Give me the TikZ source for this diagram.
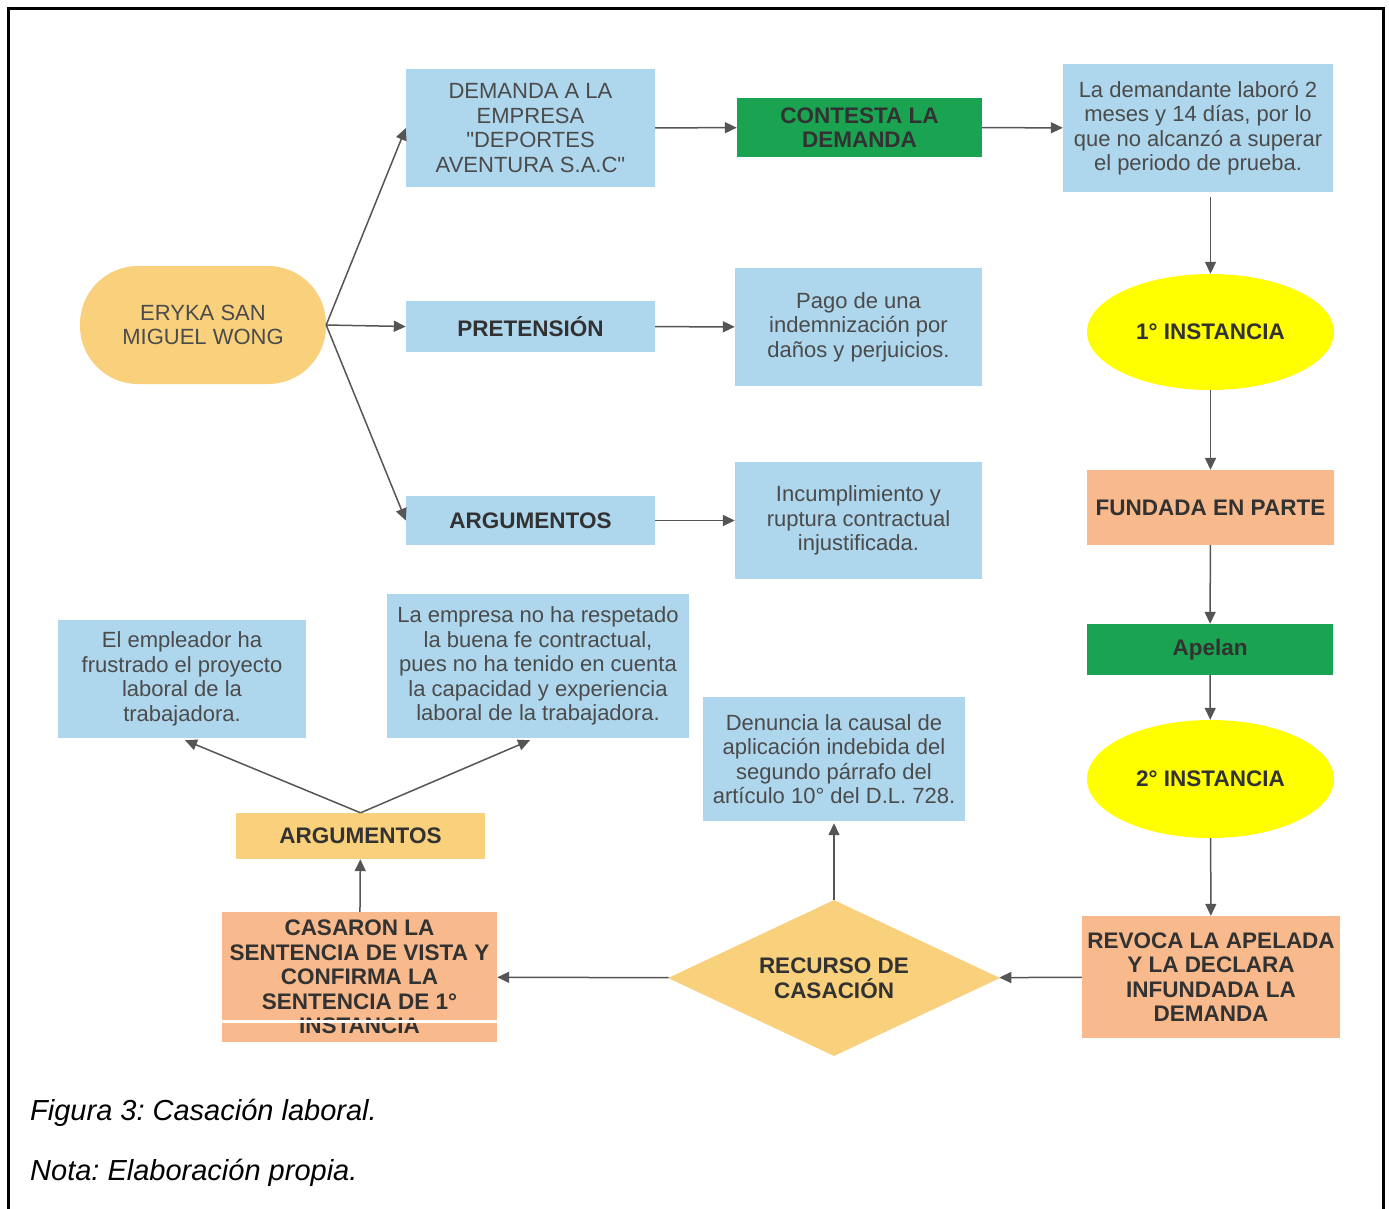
\documentclass[tikz,border=0pt]{standalone}
\usepackage{fontspec}
\setmainfont{Liberation Sans}
\usetikzlibrary{arrows.meta,shapes.geometric}
\definecolor{lblue}{RGB}{174,214,236}
\definecolor{dgreen}{RGB}{26,163,80}
\definecolor{ylw}{RGB}{255,255,0}
\definecolor{salmon}{RGB}{248,186,140}
\definecolor{gold}{RGB}{249,208,124}
\definecolor{txt}{RGB}{75,75,75}
\definecolor{btxt}{RGB}{50,50,50}
\definecolor{arr}{RGB}{85,85,85}
\newcommand\strq{\XeTeXglyph\XeTeXcharglyph"22\relax}
\frenchspacing
\begin{document}
\begin{tikzpicture}[x=1pt,y=-1pt,
  box/.style={rectangle, inner sep=0pt, align=center, text=txt,
    font=\fontsize{22}{24.5}\selectfont},
  bbox/.style={box, text=btxt, font=\fontsize{22.5}{24.5}\selectfont\bfseries},
  conn/.style={draw=arr, line width=1.5pt, -{Triangle[length=12pt,width=11pt]}}]
\useasboundingbox (0,0) rectangle (1389,1208);
\draw[line width=3pt] (8,1215) -- (8,8) -- (1383,8) -- (1383,1215);

% top part
\node[box, fill=gold, rounded corners=58pt, minimum width=246pt, minimum height=118pt] (eryka) at (203,325) {ERYKA SAN\\MIGUEL WONG};
\node[box, fill=lblue, minimum width=249pt, minimum height=118pt] (demanda) at (530.5,128) {DEMANDA A LA\\EMPRESA\\\strq DEPORTES\\AVENTURA S.A.C\strq};
\node[bbox, fill=dgreen, minimum width=245pt, minimum height=59pt] (contesta) at (859.5,127.5) {CONTESTA LA\\DEMANDA};
\node[box, fill=lblue, minimum width=270pt, minimum height=128pt] (laboro) at (1198,128) {La demandante laboró 2\\meses y 14 días, por lo\\que no alcanzó a superar\\el periodo de prueba.};
\node[bbox, fill=lblue, minimum width=249pt, minimum height=51pt] (pret) at (530.5,326.5) {PRETENSIÓN};
\node[box, fill=lblue, minimum width=247pt, minimum height=118pt] (pago) at (858.5,327) {Pago de una\\indemnización por\\daños y perjuicios.};
\node[bbox, fill=lblue, minimum width=249pt, minimum height=49pt] (arga) at (530.5,520.5) {ARGUMENTOS};
\node[box, fill=lblue, minimum width=247pt, minimum height=117pt] (incum) at (858.5,520.5) {Incumplimiento y\\ruptura contractual\\injustificada.};

% right column
\node[bbox, ellipse, fill=ylw, minimum width=247pt, minimum height=116pt] (inst1) at (1210.5,332) {1° INSTANCIA};
\node[bbox, fill=salmon, minimum width=247pt, minimum height=75pt] (fund) at (1210.5,507.5) {FUNDADA EN PARTE};
\node[bbox, fill=dgreen, minimum width=246pt, minimum height=51pt] (apelan) at (1210,649.5) {Apelan};
\node[bbox, ellipse, fill=ylw, minimum width=247pt, minimum height=118pt] (inst2) at (1210.5,779) {2° INSTANCIA};
\node[bbox, fill=salmon, minimum width=258pt, minimum height=122pt] (revoca) at (1211,977) {REVOCA LA APELADA\\Y LA DECLARA\\INFUNDADA LA\\DEMANDA};

% bottom part
\node[bbox, diamond, aspect=2.13, fill=gold, minimum width=332pt, minimum height=156pt] (recurso) at (834,978) {RECURSO DE\\CASACIÓN};
\node[box, fill=lblue, minimum width=262pt, minimum height=124pt] (denuncia) at (834,759) {Denuncia la causal de\\aplicación indebida del\\segundo párrafo del\\artículo 10° del D.L. 728.};
\node[bbox, fill=salmon, minimum width=275pt, minimum height=130pt] (casaron) at (359.5,977) {CASARON LA\\SENTENCIA DE VISTA Y\\CONFIRMA LA\\SENTENCIA DE 1°\\INSTANCIA};
\node[bbox, fill=gold, minimum width=249pt, minimum height=46pt] (argb) at (360.5,836) {ARGUMENTOS};
\node[box, fill=lblue, minimum width=248pt, minimum height=118pt] (emple) at (182,679) {El empleador ha\\frustrado el proyecto\\laboral de la\\trabajadora.};
\node[box, fill=lblue, minimum width=302pt, minimum height=144pt] (empresa) at (538,666) {La empresa no ha respetado\\la buena fe contractual,\\pues no ha tenido en cuenta\\la capacidad y experiencia\\laboral de la trabajadora.};
\fill[white] (222,1019.5) rectangle (497,1022.5);

% connectors
\draw[conn] (eryka.east) -- (demanda.west);
\draw[conn] (eryka.east) -- (pret.west);
\draw[conn] (eryka.east) -- (arga.west);
\draw[conn] (demanda) -- (contesta);
\draw[conn] (contesta) -- (laboro);
\draw[conn] (pret) -- (pago);
\draw[conn] (arga) -- (incum);
\draw[conn, shorten <=5pt] (laboro.south -| inst1.north) -- (inst1.north);
\draw[conn] (inst1) -- (fund);
\draw[conn] (fund) -- (apelan);
\draw[conn] (apelan) -- (inst2);
\draw[conn] (inst2) -- (revoca);
\draw[conn] (revoca) -- (recurso);
\draw[conn] (recurso) -- (casaron);
\draw[conn] (recurso.north) -- ([yshift=-2pt]denuncia.south);
\draw[conn] (casaron) -- (argb);
\draw[conn] (argb.north) -- ([xshift=3pt,yshift=-2pt]emple.south);
\draw[conn] (argb.north) -- ([xshift=-8pt,yshift=-2pt]empresa.south);

% caption
\node[anchor=base west, inner sep=0pt, font=\fontsize{29}{32}\selectfont\itshape] (cap1) at (30,1120) {Figura 3: Casación laboral.};
\node[anchor=base west, inner sep=0pt, font=\fontsize{29}{32}\selectfont\itshape] (cap2) at (30,1180) {Nota: Elaboración propia.};
\end{tikzpicture}
\end{document}
